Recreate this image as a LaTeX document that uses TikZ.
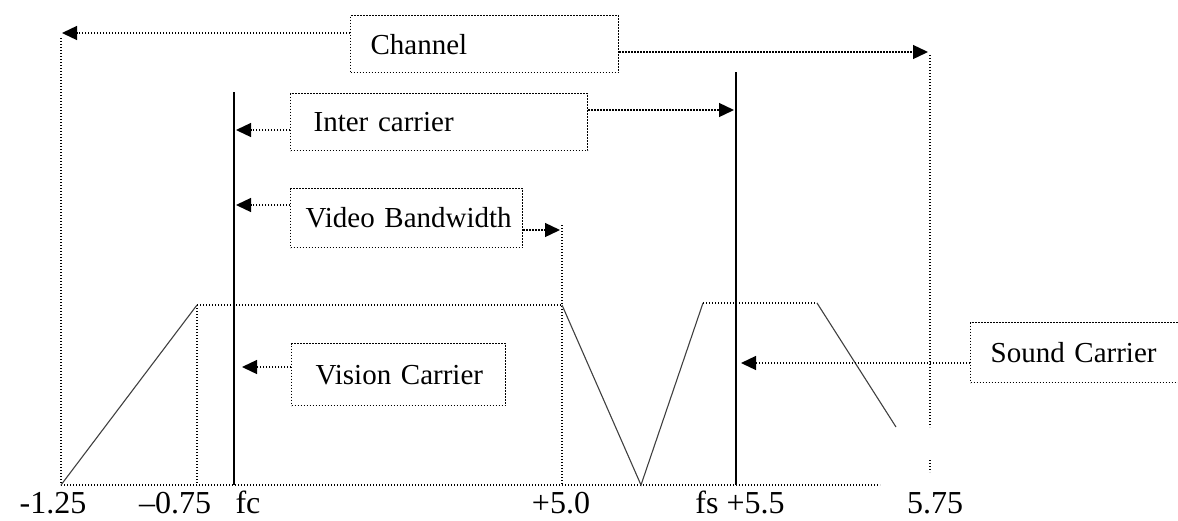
\documentclass[tikz,border=0pt]{standalone}
\usepackage{fontspec}
\setmainfont{Liberation Serif}
\usetikzlibrary{arrows.meta}
\begin{document}
\begin{tikzpicture}[x=1pt,y=-1pt,
  dots/.style={line width=1.3pt, dash pattern=on 1.3pt off 1.7pt},
  solidrule/.style={line width=1.7pt},
  slope/.style={line width=1.1pt, black!75},
  tagbox/.style={draw, dots, anchor=north west, align=left, inner ysep=0pt,
                 font=\fontsize{29}{33}\selectfont},
  arr/.style={dots, -{Triangle[length=15pt,width=14pt]}},
  axislabel/.style={font=\fontsize{32}{36}\selectfont, inner sep=0pt, anchor=base}
]
\useasboundingbox (0,0) rectangle (1178,520);
\clip (0,0) rectangle (1178,520);

% label boxes (text kept on one line, set flush left)
\node[tagbox, text width=228pt, inner xsep=20pt, minimum height=57pt] (channel) at (350,15) {\mbox{Channel}};
\node[tagbox, text width=251pt, inner xsep=23pt, minimum height=57pt] (inter) at (290,93) {\mbox{Inter carrier}};
\node[tagbox, text width=202pt, inner xsep=15pt, minimum height=59pt] (video) at (290,188) {\mbox{Video Bandwidth}};
\node[tagbox, text width=166pt, inner xsep=24pt, minimum height=62pt] (vision) at (291,343) {\mbox{Vision Carrier}};
\node[tagbox, text width=200pt, inner xsep=20pt, minimum height=60pt] (sound) at (970,322) {\mbox{Sound Carrier}};

% key points of the spectrum
\coordinate (lo) at (61,485);
\coordinate (loTop) at (61,38);
\coordinate (kneeL) at (197,305);
\coordinate (kneeLb) at (197,485);
\coordinate (fcTop) at (234,92);
\coordinate (fcBot) at (234,485);
\coordinate (kneeR) at (562,305);
\coordinate (vbTop) at (562,225);
\coordinate (vbBot) at (562,485);
\coordinate (vee) at (641,485);
\coordinate (sL) at (703,303);
\coordinate (sR) at (817,303);
\coordinate (sEnd) at (896,427);
\coordinate (fsTop) at (736,72);
\coordinate (fsBot) at (736,485);
\coordinate (rTop) at (930,55);
\coordinate (rBot) at (930,427);
\coordinate (rMarkA) at (930,460);
\coordinate (rMarkB) at (930,472);
\coordinate (baseEnd) at (880,485);

% vertical markers
\draw[dots] (loTop) -- (lo);
\draw[dots] (kneeL) -- (kneeLb);
\draw[dots] (vbTop) -- (vbBot);
\draw[dots] (rTop) -- (rBot);
\draw[dots] (rMarkA) -- (rMarkB);
\draw[solidrule] (fcTop) -- (fcBot);
\draw[solidrule] (fsTop) -- (fsBot);

% frequency axis
\draw[dots] (lo) -- (baseEnd);

% vision and sound passbands
\draw[slope] (lo) -- (kneeL);
\draw[dots] (kneeL) -- (kneeR);
\draw[slope] (kneeR) -- (vee) -- (sL);
\draw[dots] (sL) -- (sR);
\draw[slope] (sR) -- (sEnd);

% arrow ends
\coordinate (chTipL) at (62,33);
\coordinate (chTipR) at (928,52);
\coordinate (icTipL) at (236,130);
\coordinate (icTipR) at (734,110);
\coordinate (vbTipL) at (236,205);
\coordinate (vbTipR) at (560,230);
\coordinate (vcTip) at (242,367);
\coordinate (scTip) at (741,363);

\draw[arr] (channel.west |- chTipL) -- (chTipL);
\draw[arr] (channel.east |- chTipR) -- (chTipR);
\draw[arr] (inter.west |- icTipL) -- (icTipL);
\draw[arr] (inter.east |- icTipR) -- (icTipR);
\draw[arr] (video.west |- vbTipL) -- (vbTipL);
\draw[arr] (video.east |- vbTipR) -- (vbTipR);
\draw[arr] (vision.west |- vcTip) -- (vcTip);
\draw[arr] (sound.west |- scTip) -- (scTip);

% axis labels
\node[axislabel] (l1) at (53,513) {-1.25};
\node[axislabel] (l2) at (175,513) {–0.75};
\node[axislabel] (l3) at (248,513) {fc};
\node[axislabel] (l4) at (561,513) {+5.0};
\node[axislabel] (l5) at (740,513) {fs +5.5};
\node[axislabel] (l6) at (935,513) {5.75};
\end{tikzpicture}
\end{document}
